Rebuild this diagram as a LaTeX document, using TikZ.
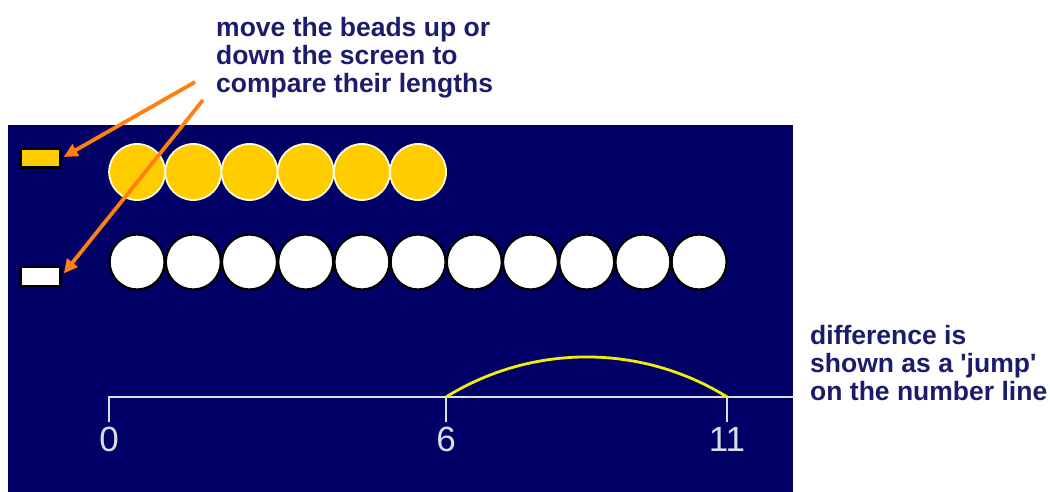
\documentclass[tikz,border=0pt]{standalone}
\usepackage{fontspec}
\setmainfont[Ligatures=TeXOff]{Liberation Sans}
\usetikzlibrary{arrows.meta}
\definecolor{navy}{RGB}{0,0,102}
\definecolor{beadyellow}{RGB}{255,204,0}
\definecolor{txtblue}{RGB}{28,28,108}
\definecolor{arroworange}{RGB}{255,128,16}
\definecolor{linegray}{RGB}{220,220,230}
\definecolor{jumpyellow}{RGB}{240,240,0}
\tikzset{
  ybead/.style={circle, fill=beadyellow, draw=white!85!yellow, line width=1.8pt, minimum size=56pt, inner sep=0pt},
  wbead/.style={circle, fill=white, draw=black, line width=2.2pt, minimum size=55pt, inner sep=0pt},
  swatch/.style={draw=black, line width=2.5pt, minimum width=40pt, minimum height=19pt, inner sep=0pt},
  pointer/.style={draw=arroworange, line width=3.8pt, -{Triangle[length=14pt,width=13pt]}},
  note/.style={font=\fontsize{26.5}{28}\selectfont\bfseries, text=txtblue, align=left, inner sep=0pt},
  numline/.style={draw=linegray, line width=2.8pt},
  numlabel/.style={font=\fontsize{35}{35}\selectfont, text=linegray, inner sep=0pt},
  jump/.style={draw=jumpyellow, line width=2.8pt}
}
\begin{document}
\begin{tikzpicture}[x=1pt,y=1pt]
\useasboundingbox (0,0) rectangle (1050,492);
\fill[white] (0,0) rectangle (1050,492);
\fill[navy] (8,0) rectangle (793,367);
% swatches
\node[swatch, fill=beadyellow] (ysw) at (40.5,334) {};
\node[swatch, fill=white] (wsw) at (40.5,215.5) {};
% beads
\foreach \i in {0,...,5} {
  \node[ybead] (y\i) at ({137.1+56.2*\i},320) {};
}
\foreach \i in {0,...,10} {
  \node[wbead] (w\i) at ({137.1+56.2*\i},230) {};
}
% number line
\coordinate (t0) at (109,95);
\coordinate (t6) at (446,95);
\coordinate (t11) at (727,95);
\coordinate (lend) at (793,95);
\draw[numline, line cap=rect] (t0) -- (lend);
\foreach \t in {t0,t6,t11} {
  \draw[numline] (\t) -- ++(0,-25);
}
\node[numlabel] (l0) at (109,53) {0};
\node[numlabel] (l6) at (446,53) {6};
\node[numlabel] (l11) at (727,53) {11};
\draw[jump] (t6) arc[start angle=121.8, end angle=58.2, radius=266.8];
% notes
\node[note, anchor=base west] (top) at (216,399) {move the beads up or\\down the screen to\\compare their lengths};
\node[note, anchor=base west] (side) at (810,91) {difference is\\shown as a 'jump'\\on the number line};
% arrows
\coordinate (a1) at (195,410);
\coordinate (a2) at (203,392);
\draw[pointer] (a1) -- ([xshift=2pt,yshift=1pt]ysw.east);
\draw[pointer] (a2) -- ([xshift=2pt,yshift=3pt]wsw.east);
\end{tikzpicture}
\end{document}
